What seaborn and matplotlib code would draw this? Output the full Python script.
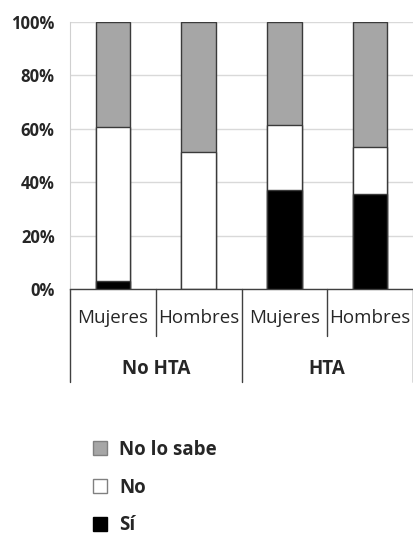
import pandas as pd
import matplotlib.pyplot as plt
import seaborn as sns
from matplotlib.patches import Patch

#%%
groups = ['No HTA', 'No HTA', 'HTA', 'HTA']
sexes = ['Mujeres', 'Hombres', 'Mujeres', 'Hombres']
si = [3.0, 0.0, 37.0, 35.7]
no = [57.8, 51.2, 24.4, 17.6]
no_lo_sabe = [39.2, 48.8, 38.6, 46.7]

keys = [g + ' ' + s for g, s in zip(groups, sexes)]
df = pd.DataFrame({'key': keys, 'Sí': si, 'No': no, 'No lo sabe': no_lo_sabe})
df['top_no'] = df['Sí'] + df['No']
df['total'] = df['top_no'] + df['No lo sabe']

#%%
sns.set_style('white')
plt.rcParams['font.family'] = ['Open Sans', 'DejaVu Sans']

fig = plt.figure(figsize=(4.13, 5.35), dpi=100)
ax = fig.add_axes([70 / 413, (535 - 289) / 535, 343 / 413, 267 / 535])

edge = '#3a3a3a'
sns.barplot(data=df, x='key', y='total', order=keys, color='#a6a6a6', width=0.4,
            edgecolor=edge, linewidth=1, saturation=1, ax=ax, zorder=3)
sns.barplot(data=df, x='key', y='top_no', order=keys, color='white', width=0.4,
            edgecolor=edge, linewidth=1, saturation=1, ax=ax, zorder=3)
sns.barplot(data=df, x='key', y='Sí', order=keys, color='black', width=0.4,
            edgecolor=edge, linewidth=1, saturation=1, ax=ax, zorder=3)

ax.set_ylim(0, 100)
ax.set_xlim(-0.5, 3.5)
ax.set_yticks([0, 20, 40, 60, 80, 100])
ax.set_yticklabels([f'{v}%' for v in [0, 20, 40, 60, 80, 100]], fontweight='bold', fontsize=12)
ax.yaxis.grid(True, color='#d9d9d9', linewidth=1, zorder=0)
ax.set_axisbelow(True)
ax.tick_params(axis='y', length=0, pad=11)
ax.set_xticks([])
ax.set_xlabel('')
ax.set_ylabel('')
for s in ['top', 'right']:
    ax.spines[s].set_visible(False)
ax.spines['left'].set_color('#d0d0d0')
ax.spines['bottom'].set_color('#404040')
ax.spines['bottom'].set_linewidth(1)

# category labels and separators below axis
trans = ax.get_xaxis_transform()
for i, s in enumerate(sexes):
    ax.text(i, -0.11, s, transform=trans, ha='center', va='center', fontsize=13.5, clip_on=False)
for x in [0.5, 2.5]:
    ax.plot([x, x], [0, -0.175], transform=trans, color='#404040', lw=1, clip_on=False)
for x in [-0.5, 1.5, 3.5]:
    ax.plot([x, x], [0, -0.35], transform=trans, color='#404040', lw=1, clip_on=False)
for i, g in enumerate(['No HTA', 'HTA']):
    ax.text(2 * i + 0.5, -0.3, g, transform=trans, ha='center', va='center',
            fontsize=13.5, fontweight='bold', clip_on=False)

handles = [Patch(facecolor='#a6a6a6', edgecolor='#808080', label='No lo sabe'),
           Patch(facecolor='white', edgecolor='#808080', label='No'),
           Patch(facecolor='black', edgecolor='black', label='Sí')]
leg = fig.legend(handles=handles, loc='upper left', bbox_to_anchor=(76 / 413, 1 - 423 / 535),
                 frameon=False, handlelength=0.75, handleheight=0.75, labelspacing=0.95,
                 handletextpad=0.65, prop={'weight': 'bold', 'size': 13.5})

fig.savefig('out.png', dpi=100)
